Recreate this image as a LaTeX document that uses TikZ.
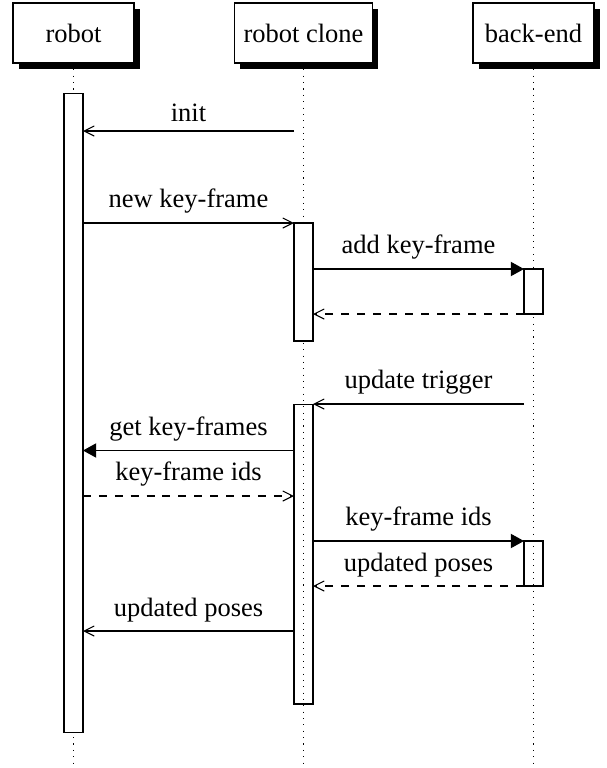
\documentclass[tikz,border=0pt]{standalone}
\usepackage{fontspec}
\setmainfont{Liberation Serif}
\usetikzlibrary{arrows.meta,shadows}
\newdimen\pu \pu=0.3774pt
\tikzset{
  inst/.style={draw, fill=white, minimum width=45.67pt, minimum height=22.64pt,
    inner sep=3.33pt, outer sep=0pt,
    drop shadow={opacity=1, fill=black, shadow xshift=2.1pt, shadow yshift=-2.4pt}},
  actbox/.style={draw, minimum width=7.17pt, inner sep=0pt, outer sep=0pt},
  life/.style={dotted},
  opn/.style={-{Straight Barb[length=3.8pt,width=3.8pt]}},
  syn/.style={-{Triangle[length=5pt,width=5.4pt]}},
  ret/.style={dashed,-{Straight Barb[length=3.8pt,width=3.8pt]}},
  lbl/.style={midway, above}
}
\begin{document}
\begin{tikzpicture}[x=\pu, y=-\pu]
\useasboundingbox (0,0) rectangle (606,768);
\coordinate (bot) at (0,768);
% instances
\node[inst] (robot) at (73.5,33) {robot};
\node[inst] (clone) at (303.5,33) {robot clone};
\node[inst] (backend) at (533.5,33) {back-end};
% lifelines
\draw[life] (robot.south) -- (robot.south |- bot);
\draw[life] (clone.south) -- (clone.south |- bot);
\draw[life] (backend.south) -- (backend.south |- bot);
% activations
\node[actbox, fill=white, minimum height=241.5pt] (ract) at (73.5,413) {};
\node[actbox, fill=white, minimum height=44.53pt] (cact1) at (303.5,282) {};
\node[actbox, fill=white, minimum height=16.98pt] (bact1) at (533.5,291.5) {};
\node[actbox, minimum height=113.2pt] (cact2) at (303.5,554) {};
\node[actbox, minimum height=16.98pt] (bact2) at (533.5,563.5) {};
% message levels
\coordinate (m1) at (0,131);
\coordinate (m2) at (0,223);
\coordinate (m3) at (0,269);
\coordinate (m4) at (0,314);
\coordinate (m5) at (0,404);
\coordinate (m6) at (0,450.5);
\coordinate (m7) at (0,496);
\coordinate (m8) at (0,541);
\coordinate (m9) at (0,586);
\coordinate (m10) at (0,631);
% messages
\draw[opn] (cact1.west |- m1) -- (ract.east |- m1) node[lbl] {init};
\draw[opn] (ract.east |- m2) -- (cact1.west |- m2) node[lbl] {new key-frame};
\draw[syn] (cact1.east |- m3) -- (bact1.west |- m3) node[lbl] {add key-frame};
\draw[ret] (bact1.west |- m4) -- (cact1.east |- m4);
\draw[opn] (bact1.west |- m5) -- (cact2.east |- m5) node[lbl] {update trigger};
\draw[syn] (cact2.west |- m6) -- (ract.east |- m6) node[lbl] {get key-frames};
\draw[ret] (ract.east |- m7) -- (cact2.west |- m7) node[lbl] {key-frame ids};
\draw[syn] (cact2.east |- m8) -- (bact2.west |- m8) node[lbl] {key-frame ids};
\draw[ret] (bact2.west |- m9) -- (cact2.east |- m9) node[lbl] {updated poses};
\draw[opn] (cact2.west |- m10) -- (ract.east |- m10) node[lbl] {updated poses};
\end{tikzpicture}
\end{document}
